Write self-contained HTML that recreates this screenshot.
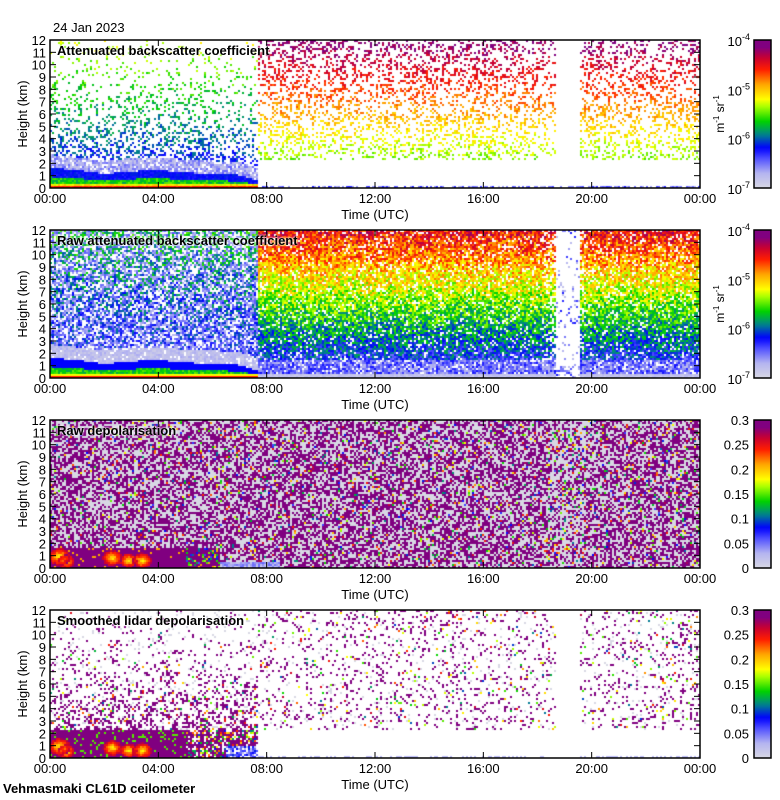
<!DOCTYPE html>
<html><head><meta charset="utf-8">
<style>
body{margin:0;background:#fff;width:780px;height:800px;overflow:hidden;position:relative;font-family:"Liberation Sans",sans-serif;}
canvas{position:absolute;}
.lbl{position:absolute;font-size:13px;color:#000;white-space:nowrap;}
.title{position:absolute;font-size:13px;font-weight:bold;color:#000;white-space:nowrap;text-shadow:0 0 2px #fff,0 0 2px #fff;}
</style></head>
<body>
<div class="lbl" style="left:53px;top:20px;">24 Jan 2023</div>
<div class="lbl" style="left:3px;top:781px;font-weight:bold;">Vehmasmaki CL61D ceilometer</div>
<div id="root"></div>
<script>
// ---- data (hourly profiles, 0..24 UTC) ----
const hours=[0,1,2,3,4,5,6,7,8,9,10,11,12,13,14,15,16,17,18,19,20,21,22,23,24];
const blTop=[1.5,1.3,1.0,1.2,1.3,1.1,1.0,0.9,0.2,0.2,0.2,0.2,0.2,0.2,0.2,0.2,0.2,0.2,0.2,0.2,0.2,0.2,0.2,0.2,0.2];
const speckleDensity=[0.45,0.5,0.4,0.5,0.45,0.5,0.5,0.4,0.3,0.32,0.3,0.3,0.28,0.3,0.3,0.28,0.3,0.3,0.25,0.2,0.3,0.3,0.28,0.3,0.3];
const rawDensity=[0.7,0.72,0.7,0.72,0.7,0.72,0.72,0.7,0.88,0.88,0.88,0.86,0.86,0.86,0.86,0.86,0.86,0.86,0.86,0.5,0.86,0.86,0.86,0.86,0.86];
const depolLowBlobs=[[0.35,0.9,1.0],[2.3,0.8,0.9],[2.9,0.6,0.8],[3.4,0.6,0.9],[0.6,0.5,0.8]]; // [hour, km, strength]
const clearSkyStart=7.7, gapStart=18.7, gapEnd=19.6;
const yTicks=[0,1,2,3,4,5,6,7,8,9,10,11,12];
const xTickLabels=["00:00","04:00","08:00","12:00","16:00","20:00","00:00"];
const bsTicks=["-4","-5","-6","-7"];
const depolTicks=["0.3","0.25","0.2","0.15","0.1","0.05","0"];

const PX=50,PW=650,PH=148,TOPS=[40,230,420,610];
function X(t){return PX+t/24*PW;}
function interp(arr,t){const i=Math.min(23,Math.floor(t));const f=t-i;return arr[i]*(1-f)+arr[i+1]*f;}
let seed=12345;function rnd(){seed|=0;seed=seed+0x6D2B79F5|0;let t=Math.imul(seed^seed>>>15,1|seed);t=t+Math.imul(t^t>>>7,61|t)^t;return((t^t>>>14)>>>0)/4294967296;}
const stops=[[0,[216,216,228]],[0.1,[180,180,240]],[0.2,[80,80,255]],[0.27,[0,0,255]],[0.36,[0,130,140]],[0.45,[0,210,0]],[0.55,[170,255,0]],[0.6,[255,255,0]],[0.7,[255,165,0]],[0.8,[255,30,0]],[0.88,[200,0,50]],[0.95,[128,0,128]],[1,[128,0,128]]];
function cmap(v){v=Math.max(0,Math.min(1,v));for(let i=1;i<stops.length;i++){if(v<=stops[i][0]){const a=stops[i-1],b=stops[i];const f=(v-a[0])/(b[0]-a[0]||1);return[0,1,2].map(k=>Math.round(a[1][k]+(b[1][k]-a[1][k])*f));}}return stops[stops.length-1][1];}
const N=()=>rnd()-0.5;

function panel1(t,h){
 if(t>gapStart&&t<gapEnd) return (h<0.1&&rnd()<0.5)?0.15:null;
 const bl=interp(blTop,t),d=interp(speckleDensity,t);
 if(t<clearSkyStart){
  if(h<0.15) return 0.8+N()*0.05;
  if(h<0.35) return 0.62+N()*0.1;
  if(h<bl*0.6) return 0.45+N()*0.12;
  if(h<bl+0.15) return 0.27+N()*0.06;
  if(h<bl+1.2) return rnd()<0.8?0.04+rnd()*0.14:null;
  const p=d*Math.exp(-(h-bl-1.2)/5);
  return rnd()<p?0.22+0.03*h+N()*0.12:null;
 }
 if(h<0.1) return rnd()<0.6?0.1+rnd()*0.15:null;
 if(h<2.2) return null;
 return rnd()<d?0.42+0.045*h+N()*0.1:null;
}
function panel2(t,h){
 const bl=interp(blTop,t),d=interp(rawDensity,t);
 if(t>gapStart&&t<gapEnd) return rnd()<(h<1?0.5:0.1)?0.05+rnd()*0.2:null;
 if(t<clearSkyStart){
  if(h<0.15) return 0.8;
  if(h<0.3) return 0.6;
  if(h<bl*0.6) return 0.45+N()*0.12;
  if(h<bl+0.15) return 0.27;
  if(h<bl+1.2) return rnd()<0.9?0.03+rnd()*0.08:null;
  return rnd()<d?(rnd()<0.5?0.08+rnd()*0.12:0.2+0.02*h+N()*0.18):null;
 }
 if(h<0.4) return 0.03+rnd()*0.06;
 if(h<1.5) return rnd()<0.85?0.08+rnd()*0.18:null;
 return rnd()<d?0.18+0.055*h+N()*0.24:null;
}
function blob(t,h){let m=-1;for(const b of depolLowBlobs){const dd=Math.hypot((t-b[0])/0.4,(h-b[1])/0.7);if(dd<b[2])m=Math.max(m,0.6+0.3*dd/b[2]);}return m;}
function panel3(t,h){
 if(t<6.3&&h<1.6){const b=blob(t,h);if(b>0)return b+N()*0.08;if(t>5&&rnd()<0.3)return 0.2+rnd()*0.4;return rnd()<0.92?0.97:0.7;}
 if(t>6.3&&t<8.5&&h<0.5) return 0.03+rnd()*0.15;
 const g=(t>gapStart-0.3&&t<gapEnd+0.2);
 const r=rnd();
 if(r<(g?0.3:0.48)) return 0.97;
 if(r<(g?0.45:0.55)) return 0.2+rnd()*0.75;
 return 0;
}
function panel4(t,h){
 if(t>gapStart&&t<gapEnd) return null;
 if(t<clearSkyStart){
  if(h<2.3&&t<5){const b=blob(t,h);if(b>0)return b+N()*0.08;return rnd()<0.9?0.97:0.5;}
  if(h<2.3&&t>=5){const r=rnd();if(t>6.5&&h<1)return r<0.7?0.05+rnd()*0.25:null;return r<0.55?0.97:(r<0.8?0.25+rnd()*0.6:null);}
  const p=0.5*Math.exp(-(h-2.3)/3.5);const r=rnd();
  if(r<p) return rnd()<0.85?0.97:0.3+rnd()*0.6;
  return r<p+0.04?0:null;
 }
 if(h<0.1) return rnd()<0.4?0.1:null;
 if(h<2.2) return null;
 const r=rnd();if(r<0.12) return rnd()<0.8?0.97:0.3+rnd()*0.6;
 return r<0.15?0:null;
}
const panels=[
 {f:panel1,title:"Attenuated backscatter coefficient",cb:"bs",name:"attenuated-backscatter"},
 {f:panel2,title:"Raw attenuated backscatter coefficient",cb:"bs",name:"raw-backscatter"},
 {f:panel3,title:"Raw depolarisation",cb:"dp",name:"raw-depolarisation"},
 {f:panel4,title:"Smoothed lidar depolarisation",cb:"dp",name:"smoothed-depolarisation"}];
const root=document.getElementById('root');
panels.forEach((P,pi)=>{
 const top=TOPS[pi];
 const c=document.createElement('canvas');c.width=PW;c.height=PH;c.style.left=PX+'px';c.style.top=top+'px';
 
 
 root.appendChild(c);
 const ctx=c.getContext('2d');const img=ctx.createImageData(PW,PH);
 const cw=2,ch=2;
 for(let cx=0;cx<PW;cx+=cw){const t=(cx+1)/PW*24;
  for(let cy=0;cy<PH;cy+=ch){const h=(PH-cy-1)/PH*12;const v=P.f(t,h);
   if(v==null)continue;const col=cmap(v);
   for(let dx=0;dx<cw&&cx+dx<PW;dx++)for(let dy=0;dy<ch&&cy+dy<PH;dy++){const k=((cy+dy)*PW+cx+dx)*4;img.data[k]=col[0];img.data[k+1]=col[1];img.data[k+2]=col[2];img.data[k+3]=255;}}}
 ctx.putImageData(img,0,0);
 const ns="http://www.w3.org/2000/svg";const s=document.createElementNS(ns,'svg');
 s.setAttribute('width',780);s.setAttribute('height',210);s.style.cssText=`position:absolute;left:0;top:${top-20}px;`;
 
 
 let sv=`<rect x="${PX}" y="20" width="${PW}" height="${PH}" fill="none" stroke="#000" stroke-width="1.5"/>`;
 yTicks.forEach(v=>{const y=20+PH-v/12*PH;sv+=`<line x1="${PX}" x2="${PX+6}" y1="${y}" y2="${y}" stroke="#000"/><line x1="${PX+PW-6}" x2="${PX+PW}" y1="${y}" y2="${y}" stroke="#000"/><text x="${PX-4}" y="${y+5}" font-size="13" text-anchor="end" font-family="Liberation Sans">${v}</text>`;});
 xTickLabels.forEach((l,i)=>{const x=X(i*4);sv+=`<line x1="${x}" x2="${x}" y1="${20+PH}" y2="${20+PH-6}" stroke="#000"/><line x1="${x}" x2="${x}" y1="20" y2="26" stroke="#000"/><text x="${x}" y="${20+PH+15}" font-size="13" text-anchor="middle" font-family="Liberation Sans">${l}</text>`;});
 sv+=`<text x="${PX+PW/2}" y="${20+PH+31}" font-size="13" text-anchor="middle" font-family="Liberation Sans">Time (UTC)</text>`;
 sv+=`<text transform="translate(27,${20+PH/2}) rotate(-90)" font-size="13" text-anchor="middle" font-family="Liberation Sans">Height (km)</text>`;
 const cbx=754,cbw=17;let grad='';for(let i=0;i<=40;i++){const cc=cmap(1-i/40);grad+=`<stop offset="${i/40}" stop-color="rgb(${cc.join(',')})"/>`;}
 sv+=`<defs><linearGradient id="g${pi}" x1="0" y1="0" x2="0" y2="1">${grad}</linearGradient></defs><rect x="${cbx}" y="20" width="${cbw}" height="${PH}" fill="url(#g${pi})" stroke="#000" stroke-width="1.5"/>`;
 if(P.cb==="bs"){bsTicks.forEach((e,i)=>{const y=20+i*PH/3;sv+=`<text x="${cbx-4}" y="${y+6}" font-size="13" text-anchor="end" font-family="Liberation Sans">10<tspan font-size="9" dy="-6">${e}</tspan></text>`;});
  sv+=`<text transform="translate(724,${20+PH/2}) rotate(-90)" font-size="12" text-anchor="middle" font-family="Liberation Sans">m<tspan font-size="8" dy="-5">-1</tspan><tspan dy="5"> sr</tspan><tspan font-size="8" dy="-5">-1</tspan></text>`;}
 else{depolTicks.forEach((l,i)=>{const y=20+i*PH/6;sv+=`<text x="${cbx-5}" y="${y+5}" font-size="13" text-anchor="end" font-family="Liberation Sans">${l}</text>`;});}
 s.innerHTML=sv;root.appendChild(s);
 const tt=document.createElement('div');tt.className='title';tt.style.cssText=`left:57px;top:${top+3}px;`;tt.textContent=P.title;
 
 
 root.appendChild(tt);
});
</script>
</body></html>
